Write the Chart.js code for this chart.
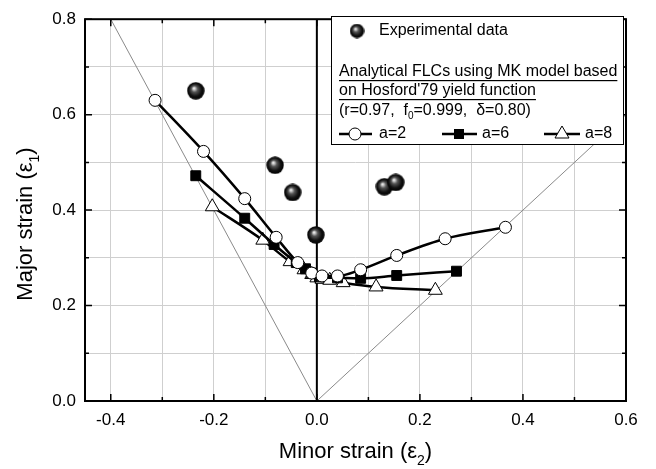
<!DOCTYPE html>
<html>
<head>
<meta charset="utf-8">
<script src="https://cdn.jsdelivr.net/npm/chart.js@4.4.1/dist/chart.umd.min.js"></script>
<style>
  html, body { margin: 0; padding: 0; background: #fff; }
  #wrap { width: 656px; height: 469px; }
</style>
</head>
<body>
<div id="wrap"><canvas id="chart" width="656" height="469"></canvas></div>
<script>
// experimental data (spheres)
const expX = [-0.235, -0.081, -0.047, -0.002, 0.131, 0.153];
const expY = [0.650, 0.494, 0.437, 0.348, 0.449, 0.458];

// MK model curves
const a2X = [-0.314, -0.220, -0.140, -0.079, -0.037, -0.010, 0.010, 0.040, 0.085, 0.155, 0.249, 0.366];
const a2Y = [0.630, 0.523, 0.424, 0.343, 0.290, 0.268, 0.262, 0.262, 0.275, 0.305, 0.340, 0.364];
const a6X = [-0.235, -0.140, -0.083, -0.040, -0.022, -0.010, 0.005, 0.040, 0.085, 0.155, 0.271];
const a6Y = [0.472, 0.383, 0.328, 0.290, 0.277, 0.268, 0.260, 0.258, 0.257, 0.263, 0.272];
const a8X = [-0.203, -0.105, -0.052, -0.025, -0.010, 0.000, 0.010, 0.025, 0.051, 0.115, 0.230];
const a8Y = [0.407, 0.337, 0.292, 0.275, 0.265, 0.258, 0.255, 0.253, 0.248, 0.239, 0.232];

// reference lines: uniaxial (e1=-2e2), equibiaxial (e1=e2), plane strain (e2=0)
const uniX = [0, -0.4], uniY = [0, 0.8];
const biX = [0, 0.6], biY = [0, 0.6];
const psX = [0, 0], psY = [0, 0.8];

const xTicks = [-0.4, -0.2, 0.0, 0.2, 0.4, 0.6];
const yTicks = [0.0, 0.2, 0.4, 0.6, 0.8];

const FONT = '"Liberation Sans", Arial, sans-serif';

function pts(xs, ys) { return xs.map((x, i) => ({x: x, y: ys[i]})); }

// shaded sphere marker
function makeSphere(d) {
  const c = document.createElement('canvas');
  c.width = d; c.height = d;
  const g = c.getContext('2d');
  const r = d / 2;
  const grad = g.createRadialGradient(r * 0.78, r * 0.7, 0, r, r, r);
  grad.addColorStop(0, '#ffffff');
  grad.addColorStop(0.12, '#d0d0d0');
  grad.addColorStop(0.35, '#555555');
  grad.addColorStop(0.7, '#111111');
  grad.addColorStop(1, '#000000');
  g.fillStyle = grad;
  g.beginPath(); g.arc(r, r, r - 0.3, 0, Math.PI * 2); g.fill();
  return c;
}
const sphere = makeSphere(18);
const sphereSmall = makeSphere(15);

const isMajor = v => Math.abs(v * 5 - Math.round(v * 5)) < 1e-6;

const decor = {
  id: 'decor',
  afterDraw(chart) {
    const ctx = chart.ctx;
    const a = chart.chartArea;
    const sx = chart.scales.x, sy = chart.scales.y;
    ctx.save();
    // frame
    ctx.strokeStyle = '#000';
    ctx.lineWidth = 2;
    ctx.strokeRect(a.left, a.top, a.right - a.left, a.bottom - a.top);
    // inward ticks
    ctx.lineWidth = 1.5;
    for (let i = -4; i <= 6; i++) {
      const v = i / 10;
      const px = sx.getPixelForValue(v);
      const len = isMajor(v) ? 7 : 4;
      ctx.beginPath();
      ctx.moveTo(px, a.bottom); ctx.lineTo(px, a.bottom - len);
      ctx.moveTo(px, a.top); ctx.lineTo(px, a.top + len);
      ctx.stroke();
    }
    for (let i = 0; i <= 8; i++) {
      const v = i / 10;
      const py = sy.getPixelForValue(v);
      const len = isMajor(v) ? 7 : 4;
      ctx.beginPath();
      ctx.moveTo(a.left, py); ctx.lineTo(a.left + len, py);
      ctx.moveTo(a.right, py); ctx.lineTo(a.right - len, py);
      ctx.stroke();
    }

    // axis titles with subscripts
    ctx.fillStyle = '#000';
    ctx.textBaseline = 'alphabetic';
    function subTitle(main, sub, tail, size) {
      ctx.font = size + 'px ' + FONT;
      const w1 = ctx.measureText(main).width;
      ctx.font = Math.round(size * 0.62) + 'px ' + FONT;
      const w2 = ctx.measureText(sub).width;
      ctx.font = size + 'px ' + FONT;
      const w3 = ctx.measureText(tail).width;
      const total = w1 + w2 + w3;
      let x = -total / 2;
      ctx.textAlign = 'left';
      ctx.fillText(main, x, 0); x += w1;
      ctx.font = Math.round(size * 0.62) + 'px ' + FONT;
      ctx.fillText(sub, x, size * 0.3); x += w2;
      ctx.font = size + 'px ' + FONT;
      ctx.fillText(tail, x, 0);
    }
    ctx.save();
    ctx.translate((a.left + a.right) / 2, 458);
    subTitle('Minor strain (\u03b5', '2', ')', 22);
    ctx.restore();
    ctx.save();
    ctx.translate(32, 224);
    ctx.rotate(-Math.PI / 2);
    subTitle('Major strain (\u03b5', '1', ')', 22);
    ctx.restore();

    // legend box
    const bx = 331, by = 16, bw = 292, bh = 128;
    ctx.fillStyle = '#fff';
    ctx.fillRect(bx, by, bw, bh);
    ctx.strokeStyle = '#000';
    ctx.lineWidth = 1;
    ctx.strokeRect(bx + 0.5, by + 0.5, bw, bh);

    ctx.fillStyle = '#000';
    ctx.textAlign = 'left';
    ctx.textBaseline = 'middle';
    ctx.font = '16px ' + FONT;
    ctx.drawImage(sphereSmall, 357 - 7.5, 31 - 7.5);
    ctx.fillText('Experimental data', 379, 31);

    const lines = ['Analytical FLCs using MK model based', "on Hosford'79 yield function"];
    const ly = [72, 91];
    lines.forEach((t, i) => {
      ctx.fillText(t, 339, ly[i]);
      const w = ctx.measureText(t).width;
      ctx.fillRect(339, ly[i] + 8, w, 1.2);
    });

    // parameter line with f0 subscript
    let x = 339;
    const py = 111;
    const seg = (t, f, dy) => { ctx.font = f; ctx.fillText(t, x, py + (dy || 0)); x += ctx.measureText(t).width; };
    seg('(r=0.97,  f', '16px ' + FONT);
    seg('0', '10px ' + FONT, 5);
    seg('=0.999,  \u03b4=0.80)', '16px ' + FONT);

    // series keys
    ctx.font = '16px ' + FONT;
    const row = 134;
    const keys = [
      {x0: 339, x1: 372, cx: 355, lab: 'a=2', tx: 379, kind: 'circle'},
      {x0: 442, x1: 477, cx: 459, lab: 'a=6', tx: 482, kind: 'square'},
      {x0: 544, x1: 580, cx: 562, lab: 'a=8', tx: 585, kind: 'triangle'}
    ];
    keys.forEach(k => {
      ctx.strokeStyle = '#000';
      ctx.lineWidth = 2.5;
      ctx.beginPath(); ctx.moveTo(k.x0, row); ctx.lineTo(k.x1, row); ctx.stroke();
      ctx.lineWidth = 1;
      ctx.beginPath();
      if (k.kind === 'circle') {
        ctx.arc(k.cx, row, 6, 0, Math.PI * 2);
        ctx.fillStyle = '#fff'; ctx.fill(); ctx.stroke();
      } else if (k.kind === 'square') {
        ctx.fillStyle = '#000'; ctx.fillRect(k.cx - 5, row - 5, 10, 10);
      } else {
        ctx.moveTo(k.cx, row - 8); ctx.lineTo(k.cx + 7, row + 4); ctx.lineTo(k.cx - 7, row + 4); ctx.closePath();
        ctx.fillStyle = '#fff'; ctx.fill(); ctx.stroke();
      }
      ctx.fillStyle = '#000';
      ctx.fillText(k.lab, k.tx, row);
    });
    ctx.restore();
  }
};

const ctx = document.querySelector('#chart').getContext('2d');
const chart = new Chart(ctx, {
  type: 'scatter',
  data: {
    datasets: [
      {
        label: 'Experimental data',
        data: pts(expX, expY),
        pointStyle: sphere,
        pointRadius: 9,
        order: 0
      },
      {
        label: 'a=2',
        data: pts(a2X, a2Y),
        showLine: true,
        borderColor: '#000',
        borderWidth: 2.5,
        cubicInterpolationMode: 'monotone',
        pointStyle: 'circle',
        pointRadius: 6,
        pointBorderWidth: 1,
        pointBackgroundColor: '#fff',
        pointBorderColor: '#000',
        order: 1
      },
      {
        label: 'a=6',
        data: pts(a6X, a6Y),
        showLine: true,
        borderColor: '#000',
        borderWidth: 2.5,
        cubicInterpolationMode: 'monotone',
        pointStyle: 'rect',
        pointRadius: 7,
        pointBorderWidth: 1,
        pointBackgroundColor: '#000',
        pointBorderColor: '#000',
        order: 2
      },
      {
        label: 'a=8',
        data: pts(a8X, a8Y),
        showLine: true,
        borderColor: '#000',
        borderWidth: 2.5,
        cubicInterpolationMode: 'monotone',
        pointStyle: 'triangle',
        pointRadius: 8,
        pointBorderWidth: 1,
        pointBackgroundColor: '#fff',
        pointBorderColor: '#000',
        order: 3
      },
      {
        label: 'plane strain',
        data: pts(psX, psY),
        showLine: true,
        borderColor: '#000',
        borderWidth: 2,
        pointRadius: 0,
        order: 4
      },
      {
        label: 'uniaxial',
        data: pts(uniX, uniY),
        showLine: true,
        borderColor: '#8a8a8a',
        borderWidth: 1,
        pointRadius: 0,
        order: 5
      },
      {
        label: 'equibiaxial',
        data: pts(biX, biY),
        showLine: true,
        borderColor: '#8a8a8a',
        borderWidth: 1,
        pointRadius: 0,
        order: 5
      }
    ]
  },
  options: {
    responsive: false,
    animation: false,
    layout: { padding: { left: 0, top: 12, right: 30, bottom: 0 } },
    scales: {
      x: {
        min: -0.45,
        max: 0.6,
        afterFit: s => { s.height = 68; },
        grid: { color: '#cfcfcf', lineWidth: 1, drawTicks: false },
        border: { display: false },
        ticks: {
          stepSize: 0.1,
          includeBounds: false,
          autoSkip: false,
          maxRotation: 0,
          padding: 9,
          color: '#000',
          font: { family: FONT, size: 17 },
          callback: v => (isMajor(v) && xTicks.some(t => Math.abs(t - v) < 1e-6)) ? v.toFixed(1) : ''
        }
      },
      y: {
        min: 0,
        max: 0.8,
        afterFit: s => { s.width = 85; },
        grid: { color: '#cfcfcf', lineWidth: 1, drawTicks: false },
        border: { display: false },
        ticks: {
          stepSize: 0.1,
          autoSkip: false,
          padding: 9,
          color: '#000',
          font: { family: FONT, size: 17 },
          callback: v => (isMajor(v) && yTicks.some(t => Math.abs(t - v) < 1e-6)) ? v.toFixed(1) : ''
        }
      }
    },
    plugins: {
      legend: { display: false },
      tooltip: { enabled: false }
    }
  },
  plugins: [decor]
});
</script>
</body>
</html>
